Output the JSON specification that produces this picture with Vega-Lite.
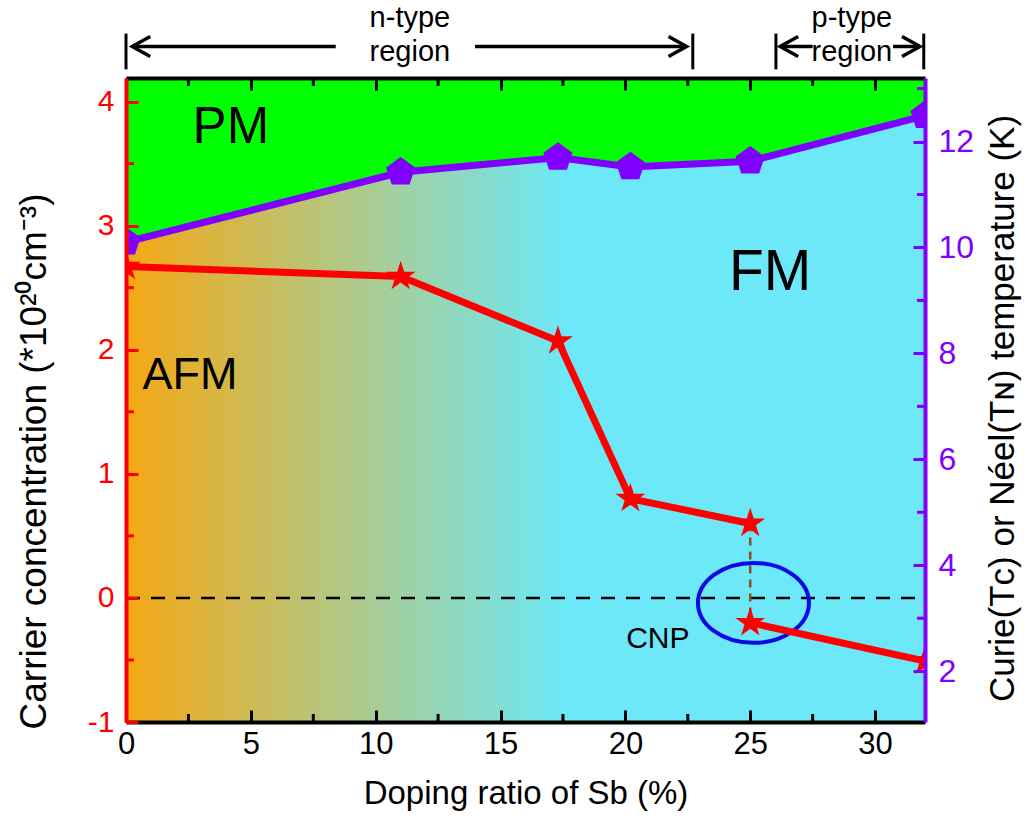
{
  "$schema": "https://vega.github.io/schema/vega-lite/v6.json",
  "width": 799,
  "height": 644,
  "autosize": {"type": "none"},
  "padding": {"left": 126, "top": 78, "right": 104, "bottom": 99},
  "background": "white",
  "config": {"view": {"stroke": null, "fill": "#00ff00"}, "font": "Liberation Sans"},
  "datasets": {
    "temp": [
      {"x": 0, "T": 10.1},
      {"x": 11, "T": 11.42},
      {"x": 17.3, "T": 11.7},
      {"x": 20.2, "T": 11.52},
      {"x": 25, "T": 11.63},
      {"x": 32, "T": 12.49}
    ],
    "carrier": [
      {"x": 0, "n": 2.67, "seg": "a"},
      {"x": 11, "n": 2.59, "seg": "a"},
      {"x": 17.3, "n": 2.07, "seg": "a"},
      {"x": 20.2, "n": 0.8, "seg": "a"},
      {"x": 25, "n": 0.6, "seg": "a"},
      {"x": 25, "n": -0.2, "seg": "b"},
      {"x": 32, "n": -0.51, "seg": "b"}
    ],
    "minorX": [
      {"x": 2.5}, {"x": 7.5}, {"x": 12.5}, {"x": 17.5}, {"x": 22.5}, {"x": 27.5}
    ]
  },
  "resolve": {"scale": {"y": "independent"}, "axis": {"x": "independent", "y": "independent"}},
  "layer": [
    {
      "layer": [
        {
          "data": {"name": "temp"},
          "mark": {"type": "area", "clip": true, "opacity": 1, "fill": {"gradient": "linear", "x1": 0, "y1": 0, "x2": 1, "y2": 0, "stops": [{"offset": 0, "color": "#f5a814"}, {"offset": 0.55, "color": "#6ce8f8"}, {"offset": 1, "color": "#6ce8f8"}]}},
          "encoding": {
            "x": {"field": "x", "type": "quantitative", "scale": {"domain": [0, 32], "nice": false, "zero": false},
              "axis": {"orient": "top", "values": [0, 5, 10, 15, 20, 25, 30], "labels": false, "title": null, "domainColor": "black", "domainWidth": 4, "tickColor": "black", "tickWidth": 3, "tickSize": -12, "grid": false, "zindex": 2}},
            "y": {"field": "T", "type": "quantitative", "scale": {"domain": [1.04, 13.2], "nice": false, "zero": false},
              "axis": {"orient": "right", "values": [2, 4, 6, 8, 10, 12], "labelExpr": "'' + datum.value",
                "title": "Curie(Tᴄ) or Néel(Tɴ) temperature (K)", "titleAngle": 270, "titleBaseline": "top", "titleColor": "black", "titleFontSize": 35, "titleFontWeight": "normal", "titleFont": "Liberation Sans", "titlePadding": 12, "titleY": 330,
                "labelColor": "#7f00ff", "labelFontSize": 32, "labelFont": "Liberation Sans", "labelPadding": 25, "labelOverlap": false, "labelFlush": false,
                "domainColor": "#7f00ff", "domainWidth": 4, "tickColor": "#7f00ff", "tickWidth": 3, "tickSize": -12, "grid": false, "zindex": 2}},
            "y2": {"datum": 1.04}
          }
        },
        {
          "data": {"name": "temp"},
          "mark": {"type": "line", "color": "#7f00ff", "strokeWidth": 7, "strokeCap": "round", "clip": true},
          "encoding": {
            "x": {"field": "x", "type": "quantitative", "scale": {"domain": [0, 32], "nice": false, "zero": false}},
            "y": {"field": "T", "type": "quantitative", "scale": {"domain": [1.04, 13.2], "nice": false, "zero": false}}
          }
        },
        {
          "data": {"name": "temp"},
          "mark": {"type": "point", "shape": "M0,-1L0.951,-0.309L0.588,0.809L-0.588,0.809L-0.951,-0.309Z", "filled": true, "size": 930, "color": "#7f00ff", "opacity": 1, "clip": true},
          "encoding": {
            "x": {"field": "x", "type": "quantitative", "scale": {"domain": [0, 32], "nice": false, "zero": false}},
            "y": {"field": "T", "type": "quantitative", "scale": {"domain": [1.04, 13.2], "nice": false, "zero": false}}
          }
        },
        {
          "data": {"values": [{"x": 32, "T": 3}, {"x": 32, "T": 5}, {"x": 32, "T": 7}, {"x": 32, "T": 9}, {"x": 32, "T": 11}, {"x": 32, "T": 13}]},
          "mark": {"type": "tick", "orient": "horizontal", "size": 16, "thickness": 3, "color": "#7f00ff", "opacity": 1, "clip": true},
          "encoding": {
            "x": {"field": "x", "type": "quantitative", "scale": {"domain": [0, 32], "nice": false, "zero": false}},
            "y": {"field": "T", "type": "quantitative", "scale": {"domain": [1.04, 13.2], "nice": false, "zero": false}}
          }
        }
      ]
    },
    {
      "layer": [
        {
          "data": {"values": [{"x": 0, "x2": 32, "n": 0}]},
          "mark": {"type": "rule", "color": "black", "strokeWidth": 2.5, "strokeDash": [14, 11]},
          "encoding": {
            "x": {"field": "x", "type": "quantitative", "scale": {"domain": [0, 32], "nice": false, "zero": false},
              "axis": {"orient": "bottom", "values": [0, 5, 10, 15, 20, 25, 30], "labelExpr": "'' + datum.value",
                "title": "Doping ratio of Sb (%)", "titleColor": "black", "titleFontSize": 33, "titleFontWeight": "normal", "titleFont": "Liberation Sans", "titlePadding": 18,
                "labelColor": "black", "labelFontSize": 31, "labelFont": "Liberation Sans", "labelPadding": 19, "labelOverlap": false, "labelFlush": false,
                "domainColor": "black", "domainWidth": 4, "tickColor": "black", "tickWidth": 3, "tickSize": -12, "grid": false, "zindex": 2}},
            "x2": {"field": "x2"},
            "y": {"field": "n", "type": "quantitative", "scale": {"domain": [-1, 4.19], "nice": false, "zero": false},
              "axis": {"orient": "left", "values": [-1, 0, 1, 2, 3, 4], "labelExpr": "'' + datum.value",
                "title": "Carrier concentration (*10²⁰cm⁻³)", "titleColor": "black", "titleFontSize": 37, "titleFontWeight": "normal", "titleFont": "Liberation Sans", "titlePadding": 34, "titleY": 383,
                "labelColor": "#ff0000", "labelFontSize": 30, "labelFont": "Liberation Sans", "labelPadding": 24, "labelOverlap": false, "labelFlush": false,
                "domainColor": "#ff0000", "domainWidth": 4, "tickColor": "#ff0000", "tickWidth": 3, "tickSize": -12, "grid": false, "zindex": 2}}
          }
        },
        {
          "data": {"values": [{"x": 0, "n": -0.5}, {"x": 0, "n": 0.5}, {"x": 0, "n": 1.5}, {"x": 0, "n": 2.5}, {"x": 0, "n": 3.5}]},
          "mark": {"type": "tick", "orient": "horizontal", "size": 16, "thickness": 3, "color": "#ff0000", "opacity": 1, "clip": true},
          "encoding": {
            "x": {"field": "x", "type": "quantitative", "scale": {"domain": [0, 32], "nice": false, "zero": false}},
            "y": {"field": "n", "type": "quantitative", "scale": {"domain": [-1, 4.19], "nice": false, "zero": false}}
          }
        },
        {
          "data": {"name": "minorX"},
          "mark": {"type": "tick", "orient": "vertical", "size": 16, "thickness": 3, "color": "black", "opacity": 1, "clip": true},
          "encoding": {
            "x": {"field": "x", "type": "quantitative", "scale": {"domain": [0, 32], "nice": false, "zero": false}},
            "y": {"datum": -1, "type": "quantitative", "scale": {"domain": [-1, 4.19], "nice": false, "zero": false}}
          }
        },
        {
          "data": {"name": "minorX"},
          "mark": {"type": "tick", "orient": "vertical", "size": 16, "thickness": 3, "color": "black", "opacity": 1, "clip": true},
          "encoding": {
            "x": {"field": "x", "type": "quantitative", "scale": {"domain": [0, 32], "nice": false, "zero": false}},
            "y": {"datum": 4.19, "type": "quantitative", "scale": {"domain": [-1, 4.19], "nice": false, "zero": false}}
          }
        },
        {
          "data": {"values": [{"x": 25, "n": 0.6, "n2": -0.2}]},
          "mark": {"type": "rule", "color": "#8b5218", "strokeWidth": 2.5, "strokeDash": [8, 6]},
          "encoding": {
            "x": {"field": "x", "type": "quantitative", "scale": {"domain": [0, 32], "nice": false, "zero": false}},
            "y": {"field": "n", "type": "quantitative", "scale": {"domain": [-1, 4.19], "nice": false, "zero": false}},
            "y2": {"field": "n2"}
          }
        },
        {
          "data": {"values": [{"x": 25.13, "n": -0.04}]},
          "mark": {"type": "point", "shape": "M-1,0A1,0.72,0,1,1,1,0A1,0.72,0,1,1,-1,0Z", "filled": false, "size": 12321, "stroke": "#0a0ae6", "strokeWidth": 4, "opacity": 1},
          "encoding": {
            "x": {"field": "x", "type": "quantitative", "scale": {"domain": [0, 32], "nice": false, "zero": false}},
            "y": {"field": "n", "type": "quantitative", "scale": {"domain": [-1, 4.19], "nice": false, "zero": false}}
          }
        },
        {
          "data": {"name": "carrier"},
          "mark": {"type": "line", "color": "#ff0000", "strokeWidth": 7, "strokeCap": "round", "clip": true},
          "encoding": {
            "x": {"field": "x", "type": "quantitative", "scale": {"domain": [0, 32], "nice": false, "zero": false}},
            "y": {"field": "n", "type": "quantitative", "scale": {"domain": [-1, 4.19], "nice": false, "zero": false}},
            "detail": {"field": "seg"}
          }
        },
        {
          "data": {"name": "carrier"},
          "mark": {"type": "point", "shape": "M0,-1L0.2245,-0.309L0.951,-0.309L0.3633,0.118L0.588,0.809L0,0.382L-0.588,0.809L-0.3633,0.118L-0.951,-0.309L-0.2245,-0.309Z", "filled": true, "size": 985, "color": "#ff0000", "opacity": 1, "clip": true},
          "encoding": {
            "x": {"field": "x", "type": "quantitative", "scale": {"domain": [0, 32], "nice": false, "zero": false}},
            "y": {"field": "n", "type": "quantitative", "scale": {"domain": [-1, 4.19], "nice": false, "zero": false}}
          }
        },
        {
          "data": {"values": [{"label": "PM", "x": 4.2, "n": 3.67}]},
          "mark": {"type": "text", "font": "Liberation Sans", "fontSize": 51, "color": "black", "align": "center", "baseline": "alphabetic"},
          "encoding": {
            "x": {"field": "x", "type": "quantitative", "scale": {"domain": [0, 32], "nice": false, "zero": false}},
            "y": {"field": "n", "type": "quantitative", "scale": {"domain": [-1, 4.19], "nice": false, "zero": false}},
            "text": {"field": "label"}
          }
        },
        {
          "data": {"values": [{"label": "FM", "x": 25.8, "n": 2.48}]},
          "mark": {"type": "text", "font": "Liberation Sans", "fontSize": 57, "color": "black", "align": "center", "baseline": "alphabetic"},
          "encoding": {
            "x": {"field": "x", "type": "quantitative", "scale": {"domain": [0, 32], "nice": false, "zero": false}},
            "y": {"field": "n", "type": "quantitative", "scale": {"domain": [-1, 4.19], "nice": false, "zero": false}},
            "text": {"field": "label"}
          }
        },
        {
          "data": {"values": [{"label": "AFM", "x": 2.56, "n": 1.68}]},
          "mark": {"type": "text", "font": "Liberation Sans", "fontSize": 45, "color": "black", "align": "center", "baseline": "alphabetic"},
          "encoding": {
            "x": {"field": "x", "type": "quantitative", "scale": {"domain": [0, 32], "nice": false, "zero": false}},
            "y": {"field": "n", "type": "quantitative", "scale": {"domain": [-1, 4.19], "nice": false, "zero": false}},
            "text": {"field": "label"}
          }
        },
        {
          "data": {"values": [{"label": "CNP", "x": 21.3, "n": -0.4}]},
          "mark": {"type": "text", "font": "Liberation Sans", "fontSize": 30, "color": "black", "align": "center", "baseline": "alphabetic"},
          "encoding": {
            "x": {"field": "x", "type": "quantitative", "scale": {"domain": [0, 32], "nice": false, "zero": false}},
            "y": {"field": "n", "type": "quantitative", "scale": {"domain": [-1, 4.19], "nice": false, "zero": false}},
            "text": {"field": "label"}
          }
        },
        {
          "data": {"values": [{"label": "n-type", "x": 11.37, "n": 4.605}, {"label": "region", "x": 11.37, "n": 4.325}, {"label": "p-type", "x": 29.07, "n": 4.605}, {"label": "region", "x": 29.07, "n": 4.325}]},
          "mark": {"type": "text", "font": "Liberation Sans", "fontSize": 29, "color": "black", "align": "center", "baseline": "alphabetic"},
          "encoding": {
            "x": {"field": "x", "type": "quantitative", "scale": {"domain": [0, 32], "nice": false, "zero": false}},
            "y": {"field": "n", "type": "quantitative", "scale": {"domain": [-1, 4.19], "nice": false, "zero": false}},
            "text": {"field": "label"}
          }
        },
        {
          "data": {"values": [{"x": 0, "n": 4.26, "n2": 4.548}, {"x": 22.7, "n": 4.26, "n2": 4.548}, {"x": 26.03, "n": 4.26, "n2": 4.548}, {"x": 31.95, "n": 4.26, "n2": 4.548}]},
          "mark": {"type": "rule", "color": "black", "strokeWidth": 3},
          "encoding": {
            "x": {"field": "x", "type": "quantitative", "scale": {"domain": [0, 32], "nice": false, "zero": false}},
            "y": {"field": "n", "type": "quantitative", "scale": {"domain": [-1, 4.19], "nice": false, "zero": false}},
            "y2": {"field": "n2"}
          }
        },
        {
          "data": {"values": [{"x": 0.3, "x2": 8.4, "n": 4.444}, {"x": 13.98, "x2": 22.4, "n": 4.444}, {"x": 26.25, "x2": 27.5, "n": 4.444}, {"x": 30.72, "x2": 31.75, "n": 4.444}]},
          "mark": {"type": "rule", "color": "black", "strokeWidth": 3.5},
          "encoding": {
            "x": {"field": "x", "type": "quantitative", "scale": {"domain": [0, 32], "nice": false, "zero": false}},
            "x2": {"field": "x2"},
            "y": {"field": "n", "type": "quantitative", "scale": {"domain": [-1, 4.19], "nice": false, "zero": false}}
          }
        },
        {
          "data": {"values": [{"x": 0.25, "n": 4.444}, {"x": 26.2, "n": 4.444}]},
          "mark": {"type": "point", "shape": "M1.8,-1L0,0L1.8,1", "filled": false, "size": 400, "stroke": "black", "strokeWidth": 3.5, "opacity": 1},
          "encoding": {
            "x": {"field": "x", "type": "quantitative", "scale": {"domain": [0, 32], "nice": false, "zero": false}},
            "y": {"field": "n", "type": "quantitative", "scale": {"domain": [-1, 4.19], "nice": false, "zero": false}}
          }
        },
        {
          "data": {"values": [{"x": 22.45, "n": 4.444}, {"x": 31.8, "n": 4.444}]},
          "mark": {"type": "point", "shape": "M-1.8,-1L0,0L-1.8,1", "filled": false, "size": 400, "stroke": "black", "strokeWidth": 3.5, "opacity": 1},
          "encoding": {
            "x": {"field": "x", "type": "quantitative", "scale": {"domain": [0, 32], "nice": false, "zero": false}},
            "y": {"field": "n", "type": "quantitative", "scale": {"domain": [-1, 4.19], "nice": false, "zero": false}}
          }
        }
      ]
    }
  ]
}
